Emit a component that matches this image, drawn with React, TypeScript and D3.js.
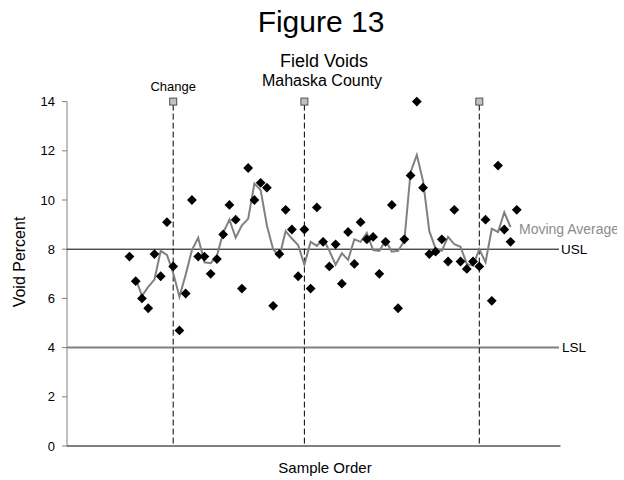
import React from "react";
import * as d3 from "d3";

const voidPercent: number[] = [
  7.7, 6.7, 6.0, 5.6, 7.8, 6.9, 9.1, 7.3, 4.7, 6.2,
  10.0, 7.7, 7.7, 7.0, 7.6, 8.6, 9.8, 9.2, 6.4, 11.3,
  10.0, 10.7, 10.5, 5.7, 7.8, 9.6, 8.8, 6.9, 8.8, 6.4,
  9.7, 8.3, 7.3, 8.2, 6.6, 8.7, 7.4, 9.1, 8.4, 8.5,
  7.0, 8.3, 9.8, 5.6, 8.4, 11.0, 14.0, 10.5, 7.8, 7.9,
  8.4, 7.5, 9.6, 7.5, 7.2, 7.5, 7.3, 9.2, 5.9, 11.4,
  8.8, 8.3, 9.6,
];
const changeSamples: number[] = [8, 29, 57];
const yTicks: number[] = [0, 2, 4, 6, 8, 10, 12, 14];
const USL = 8;
const LSL = 4;
const maPeriod = 3;

const FONT = "'Liberation Sans', Arial, Helvetica, sans-serif";

export default function App() {
  const W = 624, H = 480;
  const left = 67, right = 560.5, top = 101.6, bottom = 446;
  const x = d3.scaleLinear().domain([-9, 70]).range([left, right]);
  const y = d3.scaleLinear().domain([0, 14]).range([bottom, top]);

  const samples = voidPercent.map((v, i) => ({ n: i + 1, v }));
  const half = Math.floor(maPeriod / 2);
  const ma = samples
    .slice(half, samples.length - half)
    .map((d, k) => ({
      n: d.n,
      v: d3.mean(voidPercent.slice(k, k + maPeriod)) as number,
    }));
  const line = d3
    .line<{ n: number; v: number }>()
    .x((d) => x(d.n))
    .y((d) => y(d.v));
  const diamond = d3.symbol().type(d3.symbolSquare).size(48)();

  return (
    <svg
      width={W}
      height={H}
      style={{ position: "absolute", left: 0, top: 0, background: "#fff" }}
      fontFamily={FONT}
    >
      <defs>
        <clipPath id="chartClip">
          <rect x={0} y={0} width={617} height={H} />
        </clipPath>
      </defs>
      <text x={321} y={32} fontSize={30} textAnchor="middle" fill="#000">
        Figure 13
      </text>
      <text x={324} y={67} fontSize={18} textAnchor="middle" fill="#000">
        Field Voids
      </text>
      <text x={322} y={86} fontSize={16} textAnchor="middle" fill="#000">
        Mahaska County
      </text>

      {/* left axis */}
      <line x1={left} x2={left} y1={top} y2={bottom} stroke="#808080" strokeWidth={1} />
      {yTicks.map((t) => (
        <g key={t}>
          <line x1={left - 5} x2={left} y1={y(t)} y2={y(t)} stroke="#808080" />
          <text
            x={55}
            y={y(t)}
            dy="0.35em"
            fontSize={13}
            textAnchor="end"
            fill="#000"
          >
            {t}
          </text>
        </g>
      ))}
      <text
        transform={`translate(25,${262}) rotate(-90)`}
        fontSize={16}
        textAnchor="middle"
        fill="#000"
      >
        Void Percent
      </text>

      {/* LSL / USL */}
      <line x1={left} x2={559} y1={y(LSL)} y2={y(LSL)} stroke="#808080" strokeWidth={2} />
      <text x={562} y={y(LSL)} dy="0.35em" fontSize={13.5} fill="#000">
        LSL
      </text>
      <line x1={left} x2={559} y1={y(USL)} y2={y(USL)} stroke="#000" strokeWidth={1} />
      <text x={561} y={y(USL)} dy="0.35em" fontSize={13.5} fill="#000">
        USL
      </text>

      {/* change lines */}
      {changeSamples.map((c) => (
        <g key={c}>
          <line
            x1={x(c)}
            x2={x(c)}
            y1={y(14) + 3}
            y2={bottom}
            stroke="#000"
            strokeWidth={1}
            strokeDasharray="6,3"
          />
          <rect
            x={x(c) - 3.5}
            y={y(14) - 3.5}
            width={7}
            height={7}
            fill="#c0c0c0"
            stroke="#505050"
            strokeWidth={1}
          />
        </g>
      ))}
      <text x={x(changeSamples[0])} y={91} fontSize={13} textAnchor="middle" fill="#000">
        Change
      </text>

      {/* bottom axis */}
      <line x1={left} x2={right} y1={bottom} y2={bottom} stroke="#000" strokeWidth={1} />
      <text x={325} y={473} fontSize={15} textAnchor="middle" fill="#000">
        Sample Order
      </text>

      {/* moving average */}
      <path d={line(ma) ?? ""} fill="none" stroke="#808080" strokeWidth={2} />
      <text
        x={519}
        y={229}
        dy="0.35em"
        fontSize={14}
        fill="#8c8c8c"
        clipPath="url(#chartClip)"
      >
        Moving Average
      </text>

      {/* data points */}
      {samples.map((d) => (
        <path
          key={d.n}
          d={diamond ?? ""}
          transform={`translate(${x(d.n)},${y(d.v)}) rotate(45)`}
          fill="#000"
        />
      ))}
    </svg>
  );
}
